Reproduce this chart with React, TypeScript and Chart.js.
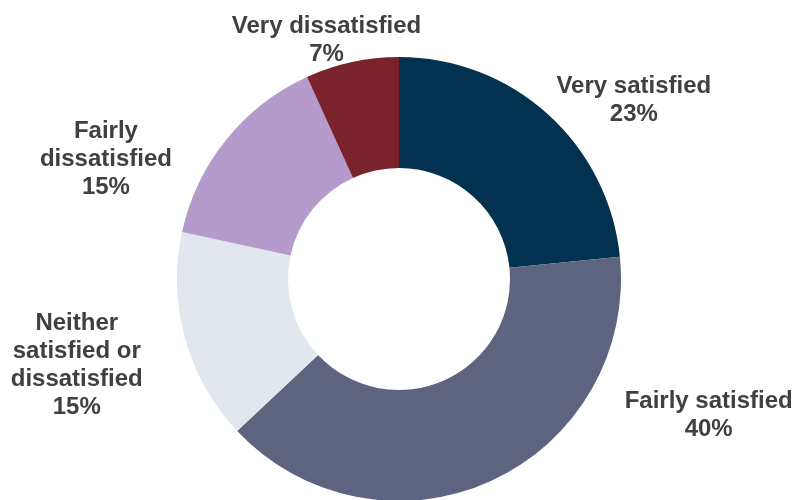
import React, { useEffect, useRef } from "react";
import { Chart, registerables } from "chart.js";

Chart.register(...registerables);

const categories = [
  "Very satisfied",
  "Fairly satisfied",
  "Neither satisfied or dissatisfied",
  "Fairly dissatisfied",
  "Very dissatisfied",
];
const values = [23.4, 39.6, 15.4, 14.8, 6.8];
const labelLines = [
  ["Very satisfied"],
  ["Fairly satisfied"],
  ["Neither", "satisfied or", "dissatisfied"],
  ["Fairly", "dissatisfied"],
  ["Very dissatisfied"],
];
const colors = ["#02324F", "#5E6380", "#E1E7EC", "#B59BCB", "#7B232D"];

// label layout: angle (deg clockwise from top) and distance in outer-radius units
const labelAngles = [52.4, 113.4, 255.4, 292.6, 343.2];
const labelDistances = [1.335, 1.52, 1.5, 1.43, 1.13];

const labelPlugin = {
  id: "outerLabels",
  afterDatasetsDraw(chart: any) {
    const meta = chart.getDatasetMeta(0);
    const ctx = chart.ctx;
    const data = chart.data.datasets[0].data as number[];
    const total = data.reduce((a, b) => a + b, 0);
    ctx.save();
    ctx.font = "bold 24px 'Liberation Sans', Arial, sans-serif";
    ctx.fillStyle = "#404040";
    ctx.textAlign = "center";
    ctx.textBaseline = "middle";
    const lh = 28;
    meta.data.forEach((arc: any, i: number) => {
      const { x, y, outerRadius } = arc.getProps(["x", "y", "outerRadius"], true);
      const a = (labelAngles[i] * Math.PI) / 180;
      const d = labelDistances[i] * outerRadius;
      const cx = x + Math.sin(a) * d;
      const cy = y - Math.cos(a) * d + 2;
      const lines = [...labelLines[i], Math.round((data[i] / total) * 100) + "%"];
      const startY = cy - ((lines.length - 1) * lh) / 2;
      lines.forEach((t, j) => ctx.fillText(t, cx, startY + j * lh));
    });
    ctx.restore();
  },
};

export default function App() {
  const ref = useRef<HTMLCanvasElement>(null);
  useEffect(() => {
    if (!ref.current) return;
    const chart = new Chart(ref.current, {
      type: "doughnut",
      data: {
        labels: categories,
        datasets: [
          {
            data: values,
            backgroundColor: colors,
            borderWidth: 0,
            radius: 222,
          } as any,
        ],
      },
      options: {
        animation: false,
        responsive: true,
        maintainAspectRatio: false,
        cutout: "50%",
        rotation: 0,
        layout: { padding: { left: 5, right: 0, top: 58, bottom: 0 } },
        plugins: {
          legend: { display: false },
          tooltip: { enabled: false },
        },
      } as any,
      plugins: [labelPlugin],
    });
    return () => chart.destroy();
  }, []);
  return (
    <div style={{ position: "fixed", left: 0, top: 0, width: 793, height: 500, background: "#fff" }}>
      <canvas ref={ref} />
    </div>
  );
}
